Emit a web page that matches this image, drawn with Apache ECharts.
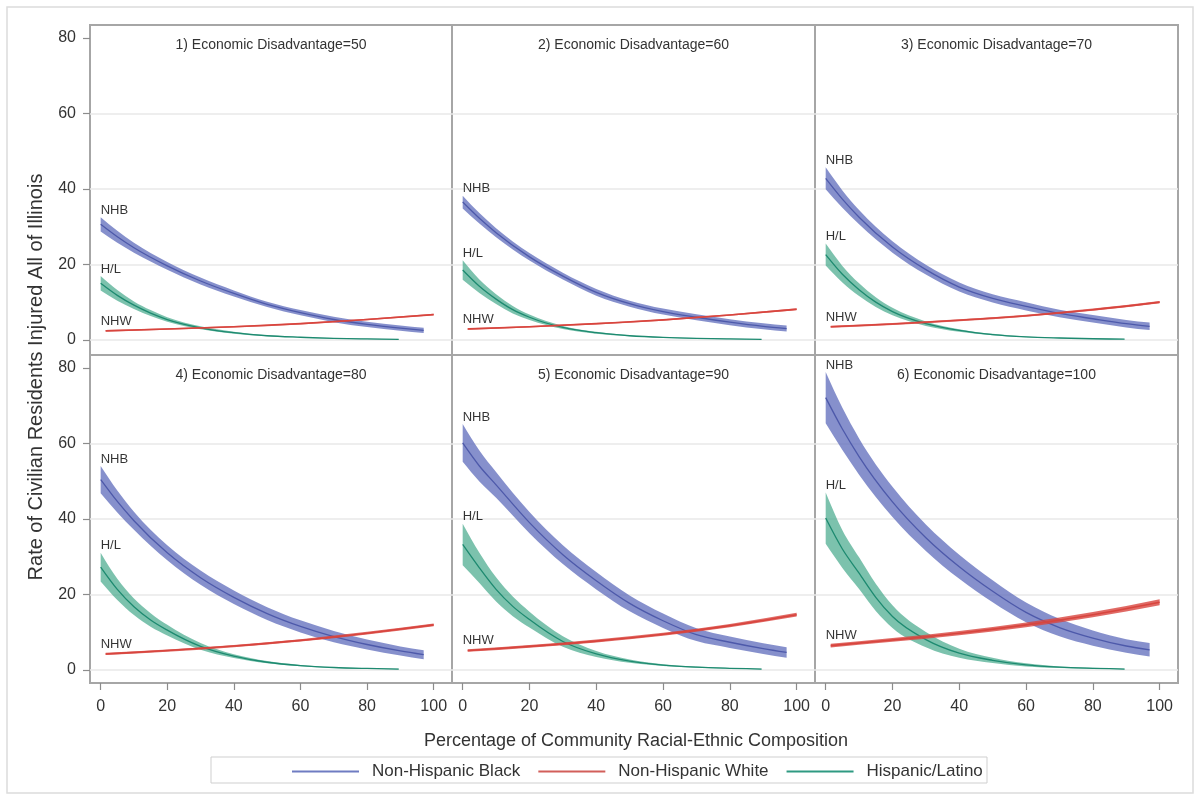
<!DOCTYPE html>
<html><head><meta charset="utf-8">
<script src="https://cdn.jsdelivr.net/npm/echarts@6/dist/echarts.min.js"></script>
<style>html,body{margin:0;padding:0;background:#fff}#c{width:1200px;height:799px}</style>
</head><body><div id="c"></div>
<script>
const ED_LEVELS = [50, 60, 70, 80, 90, 100];
const X_TICKS = [0, 20, 40, 60, 80, 100];
const Y_TICKS = [0, 20, 40, 60, 80];
const GRID_Y = [0, 20, 40, 60];
const SERIES_NAMES = ['Non-Hispanic Black', 'Non-Hispanic White', 'Hispanic/Latino'];
const SHORT_LABELS = ['NHB', 'NHW', 'H/L'];

const NHB_X = [0, 5, 10, 20, 30, 40, 50, 60, 70, 80, 90, 97];
const HL_X  = [0, 5, 10, 15, 20, 30, 40, 50, 60, 70, 80, 89.5];
const NHW_X = [1.5, 20, 40, 60, 80, 100];

const NHB_MEAN = [
  [30.6, 27.3, 24.4, 19.6, 15.6, 12.3, 9.4, 7.2, 5.4, 4.1, 3.1, 2.5],
  [36.5, 32.2, 28.4, 22.0, 16.9, 12.6, 9.6, 7.5, 6.0, 4.7, 3.6, 3.0],
  [42.8, 37.3, 32.5, 24.6, 18.6, 14.0, 11.0, 8.9, 7.0, 5.6, 4.3, 3.6],
  [50.4, 44.6, 39.5, 31.0, 24.4, 19.2, 14.9, 11.5, 8.8, 6.7, 5.0, 4.0],
  [60.1, 54.0, 49.0, 39.0, 30.5, 23.6, 17.6, 13.0, 9.3, 7.3, 5.6, 4.6],
  [72.1, 63.8, 56.5, 44.5, 35.0, 27.3, 20.8, 15.2, 11.2, 8.4, 6.3, 5.3]
];
const NHB_HALF = [
  [1.9, 1.6, 1.3, 1.0, 0.9, 0.8, 0.7, 0.7, 0.7, 0.7, 0.7, 0.7],
  [1.7, 1.4, 1.2, 1.0, 0.9, 0.9, 0.8, 0.8, 0.8, 0.8, 0.8, 0.8],
  [2.9, 2.3, 1.9, 1.5, 1.3, 1.2, 1.1, 1.1, 1.0, 1.0, 1.0, 1.0],
  [3.6, 2.9, 2.4, 2.0, 1.9, 1.8, 1.7, 1.6, 1.5, 1.3, 1.2, 1.2],
  [5.0, 4.1, 3.4, 2.8, 2.5, 2.3, 2.1, 1.9, 1.7, 1.5, 1.4, 1.4],
  [6.8, 5.6, 4.8, 4.0, 3.5, 3.2, 2.9, 2.6, 2.3, 2.0, 1.8, 1.8]
];
const HL_MEAN = [
  [15.0, 11.8, 9.2, 7.1, 5.4, 3.2, 1.9, 1.1, 0.7, 0.4, 0.25, 0.15],
  [18.5, 14.2, 10.8, 8.0, 6.0, 3.3, 1.9, 1.1, 0.65, 0.4, 0.25, 0.15],
  [22.6, 17.4, 13.3, 10.0, 7.5, 4.3, 2.5, 1.4, 0.8, 0.5, 0.3, 0.2],
  [27.2, 21.3, 16.7, 13.2, 10.5, 6.2, 3.6, 2.0, 1.1, 0.6, 0.35, 0.2],
  [33.2, 27.0, 21.3, 16.8, 13.3, 7.5, 4.2, 2.3, 1.25, 0.7, 0.4, 0.2],
  [40.2, 32.0, 25.6, 19.2, 14.1, 8.0, 4.4, 2.5, 1.3, 0.7, 0.4, 0.2]
];
const HL_HALF = [
  [1.9, 1.4, 1.0, 0.8, 0.6, 0.4, 0.25, 0.15, 0.1, 0.08, 0.06, 0.05],
  [2.6, 1.8, 1.3, 1.0, 0.7, 0.4, 0.25, 0.15, 0.1, 0.08, 0.06, 0.05],
  [2.9, 2.2, 1.7, 1.3, 1.0, 0.6, 0.35, 0.2, 0.12, 0.08, 0.06, 0.05],
  [3.8, 2.8, 2.2, 1.8, 1.4, 0.9, 0.5, 0.3, 0.18, 0.1, 0.07, 0.05],
  [5.5, 4.0, 3.2, 2.6, 2.1, 1.4, 0.8, 0.45, 0.25, 0.15, 0.1, 0.06],
  [6.8, 5.0, 4.2, 3.6, 3.0, 2.0, 1.2, 0.7, 0.4, 0.2, 0.12, 0.07]
];
const NHW_MEAN = [
  [2.4, 2.9, 3.5, 4.3, 5.4, 6.7],
  [2.9, 3.5, 4.3, 5.3, 6.6, 8.1],
  [3.5, 4.2, 5.2, 6.4, 8.0, 10.0],
  [4.2, 5.1, 6.3, 7.8, 9.7, 11.9],
  [5.1, 6.2, 7.6, 9.4, 11.7, 14.6],
  [6.4, 7.9, 9.7, 11.9, 14.6, 17.9]
];
const NHW_HALF = [
  [0.2, 0.2, 0.2, 0.2, 0.2, 0.2],
  [0.2, 0.2, 0.2, 0.2, 0.2, 0.25],
  [0.25, 0.25, 0.25, 0.25, 0.3, 0.3],
  [0.3, 0.3, 0.3, 0.3, 0.35, 0.35],
  [0.35, 0.35, 0.4, 0.4, 0.45, 0.5],
  [0.5, 0.5, 0.55, 0.6, 0.7, 0.8]
];

const FONT = "'Liberation Sans', Arial, Helvetica, sans-serif";
const STYLE = [
  {line: '#4d59aa', band: 'rgba(100,113,190,0.78)', legend: '#6f7cc2', w: 1.3},
  {line: '#d8453e', band: 'rgba(216,69,62,0.8)', legend: '#d25f5a', w: 1.6},
  {line: '#1d8a70', band: 'rgba(74,170,142,0.72)', legend: '#2f9a82', w: 1.3}
];

const COL_LEFT = [90, 452, 815];
const COL_W = [362, 363, 363];
const ROW_TOP = [25, 355];
const ROW_H = [330, 328];
const Y_MIN = [-4, -3.5];

// monotone cubic (pixel space) -> bezier segments
function monoSegments(pts) {
  const n = pts.length, t = new Array(n).fill(0);
  const sl = [];
  for (let i = 0; i < n - 1; i++) sl.push((pts[i + 1][1] - pts[i][1]) / (pts[i + 1][0] - pts[i][0]));
  for (let i = 1; i < n - 1; i++) {
    const h0 = pts[i][0] - pts[i - 1][0], h1 = pts[i + 1][0] - pts[i][0];
    const s0 = sl[i - 1], s1 = sl[i];
    const pp = (s0 * h1 + s1 * h0) / (h0 + h1);
    t[i] = (Math.sign(s0) + Math.sign(s1)) * Math.min(Math.abs(s0), Math.abs(s1), 0.5 * Math.abs(pp)) || 0;
  }
  if (n > 2) {
    t[0] = (3 * sl[0] - t[1]) / 2;
    t[n - 1] = (3 * sl[n - 2] - t[n - 2]) / 2;
  } else if (n === 2) { t[0] = sl[0]; t[1] = sl[0]; }
  const segs = [];
  for (let i = 0; i < n - 1; i++) {
    const dx = (pts[i + 1][0] - pts[i][0]) / 3;
    segs.push({p0: pts[i], c1: [pts[i][0] + dx, pts[i][1] + dx * t[i]],
      c2: [pts[i + 1][0] - dx, pts[i + 1][1] - dx * t[i + 1]], p1: pts[i + 1]});
  }
  return segs;
}
const f = v => v.toFixed(2);
function forwardPath(pts) {
  let d = 'M' + f(pts[0][0]) + ' ' + f(pts[0][1]);
  for (const s of monoSegments(pts)) d += ' C' + f(s.c1[0]) + ' ' + f(s.c1[1]) + ' ' + f(s.c2[0]) + ' ' + f(s.c2[1]) + ' ' + f(s.p1[0]) + ' ' + f(s.p1[1]);
  return d;
}
function backwardPath(pts) {
  const segs = monoSegments(pts);
  let d = ' L' + f(pts[pts.length - 1][0]) + ' ' + f(pts[pts.length - 1][1]);
  for (let i = segs.length - 1; i >= 0; i--) {
    const s = segs[i];
    d += ' C' + f(s.c2[0]) + ' ' + f(s.c2[1]) + ' ' + f(s.c1[0]) + ' ' + f(s.c1[1]) + ' ' + f(s.p0[0]) + ' ' + f(s.p0[1]);
  }
  return d + ' Z';
}

function curveSeries(p, xs, mean, half, st, mode) {
  return {
    type: 'custom', xAxisIndex: p, yAxisIndex: p, silent: true, clip: true, z: 2,
    data: xs.map((x, i) => [x, mean[i], mean[i] - half[i], mean[i] + half[i]]),
    encode: {x: 0, y: [1, 2, 3]},
    renderItem: function (params, api) {
      if (params.dataIndexInside !== 0) return null;
      const n = params.dataInsideLength;
      const up = [], lo = [], mid = [];
      for (let i = 0; i < n; i++) {
        const x = api.value(0, i);
        mid.push(api.coord([x, api.value(1, i)]));
        lo.push(api.coord([x, api.value(2, i)]));
        up.push(api.coord([x, api.value(3, i)]));
      }
      if (mode === 'band') {
        return {type: 'path', shape: {pathData: forwardPath(up) + backwardPath(lo)},
          style: {fill: st.band, stroke: null}};
      }
      return {type: 'path', shape: {pathData: forwardPath(mid)},
        style: {fill: null, stroke: st.line, lineWidth: st.w}};
    }
  };
}

const grids = [], xAxes = [], yAxes = [], titles = [], series = [];
for (let p = 0; p < 6; p++) {
  const c = p % 3, r = Math.floor(p / 3);
  grids.push({left: COL_LEFT[c], top: ROW_TOP[r], width: COL_W[c], height: ROW_H[r],
    show: true, borderColor: '#a6a6a6', borderWidth: 2, backgroundColor: 'transparent'});
  xAxes.push({type: 'value', gridIndex: p, min: -3.2, max: 105.5, splitNumber: 5, position: 'bottom',
    axisLine: {show: false, onZero: false},
    axisTick: {show: r === 1, length: 7, customValues: X_TICKS, lineStyle: {color: '#8c8c8c', width: 1.2}},
    axisLabel: {show: r === 1, customValues: X_TICKS, fontSize: 16, color: '#333', margin: 16, fontFamily: FONT,
      formatter: v => (v % 20 === 0 && v >= 0 ? String(v) : '')},
    splitLine: {show: false}});
  yAxes.push({type: 'value', gridIndex: p, min: Y_MIN[r], max: 83.4, splitNumber: 4, position: 'left',
    axisLine: {show: false, onZero: false},
    axisTick: {show: c === 0, length: 7, customValues: Y_TICKS, lineStyle: {color: '#8c8c8c', width: 1.2}},
    axisLabel: {show: c === 0, customValues: Y_TICKS, fontSize: 16, color: '#333', margin: 14, fontFamily: FONT,
      formatter: v => (v % 20 === 0 && v >= 0 ? String(v) : '')},
    splitLine: {show: false}});
  titles.push({text: (p + 1) + ') Economic Disadvantage=' + ED_LEVELS[p],
    left: COL_LEFT[c] + COL_W[c] / 2, top: ROW_TOP[r] + 13, textAlign: 'center', padding: 0,
    textStyle: {fontSize: 14, fontWeight: 'normal', color: '#333', fontFamily: FONT}});

  // horizontal reference grid lines (0..60)
  series.push({type: 'scatter', xAxisIndex: p, yAxisIndex: p, data: [], silent: true, z: 0,
    markLine: {silent: true, z: 0, symbol: 'none', animation: false, label: {show: false},
      lineStyle: {color: '#e8e8e8', width: 1.5, type: 'solid'},
      emphasis: {disabled: true},
      data: GRID_Y.map(v => ({yAxis: v}))}});

  series.push(curveSeries(p, NHB_X, NHB_MEAN[p], NHB_HALF[p], STYLE[0], 'band'));
  series.push(curveSeries(p, HL_X, HL_MEAN[p], HL_HALF[p], STYLE[2], 'band'));
  series.push(curveSeries(p, NHB_X, NHB_MEAN[p], NHB_HALF[p], STYLE[0], 'line'));
  series.push(curveSeries(p, HL_X, HL_MEAN[p], HL_HALF[p], STYLE[2], 'line'));
  series.push(curveSeries(p, NHW_X, NHW_MEAN[p], NHW_HALF[p], STYLE[1], 'band'));
  series.push(curveSeries(p, NHW_X, NHW_MEAN[p], NHW_HALF[p], STYLE[1], 'line'));

  series.push({type: 'scatter', xAxisIndex: p, yAxisIndex: p, symbolSize: 1, silent: true, z: 3,
    itemStyle: {color: 'transparent'},
    label: {show: true, position: 'top', align: 'left', distance: 0, formatter: '{b}',
      fontSize: 13, color: '#000', fontFamily: FONT},
    data: [
      {name: SHORT_LABELS[0], value: [0, NHB_MEAN[p][0] + NHB_HALF[p][0]]},
      {name: SHORT_LABELS[2], value: [0, HL_MEAN[p][0] + HL_HALF[p][0]]},
      {name: SHORT_LABELS[1], value: [0, NHW_MEAN[p][0] + NHW_HALF[p][0]], label: {distance: 1.5}}
    ]});
}
// legend entries
SERIES_NAMES.forEach((nm, i) => series.push({type: 'line', name: nm, xAxisIndex: 0, yAxisIndex: 0, data: [],
  symbol: 'none', itemStyle: {color: STYLE[i].legend}, lineStyle: {color: STYLE[i].legend, width: 1.5}}));

const chart = echarts.init(document.getElementById('c'), null, {renderer: 'canvas'});
chart.setOption({
  animation: false,
  backgroundColor: '#fff',
  title: titles,
  grid: grids,
  xAxis: xAxes,
  yAxis: yAxes,
  legend: {data: SERIES_NAMES, left: 292, top: 763, padding: 0, itemWidth: 67, itemHeight: 2, itemGap: 18,
    icon: 'rect', selectedMode: false,
    textStyle: {fontSize: 17, color: '#333', fontFamily: FONT, padding: [0, 0, 0, 8]}},
  graphic: [
    {type: 'rect', silent: true, z: -10, shape: {x: 7, y: 7, width: 1186, height: 786},
      style: {fill: 'none', stroke: '#dcdcdc', lineWidth: 1.5}},
    {type: 'rect', silent: true, shape: {x: 211, y: 757, width: 776, height: 26},
      style: {fill: 'none', stroke: '#cfcfcf', lineWidth: 1}},
    {type: 'text', silent: true, x: 36, y: 377, rotation: Math.PI / 2,
      style: {text: 'Rate of Civilian Residents Injured All of Illinois', fontSize: 20, fill: '#333',
        fontFamily: FONT, align: 'center', verticalAlign: 'middle'}},
    {type: 'text', silent: true, x: 636, y: 741,
      style: {text: 'Percentage of Community Racial-Ethnic Composition', fontSize: 18, fill: '#333',
        fontFamily: FONT, align: 'center', verticalAlign: 'middle'}}
  ],
  series: series
});
</script></body></html>
